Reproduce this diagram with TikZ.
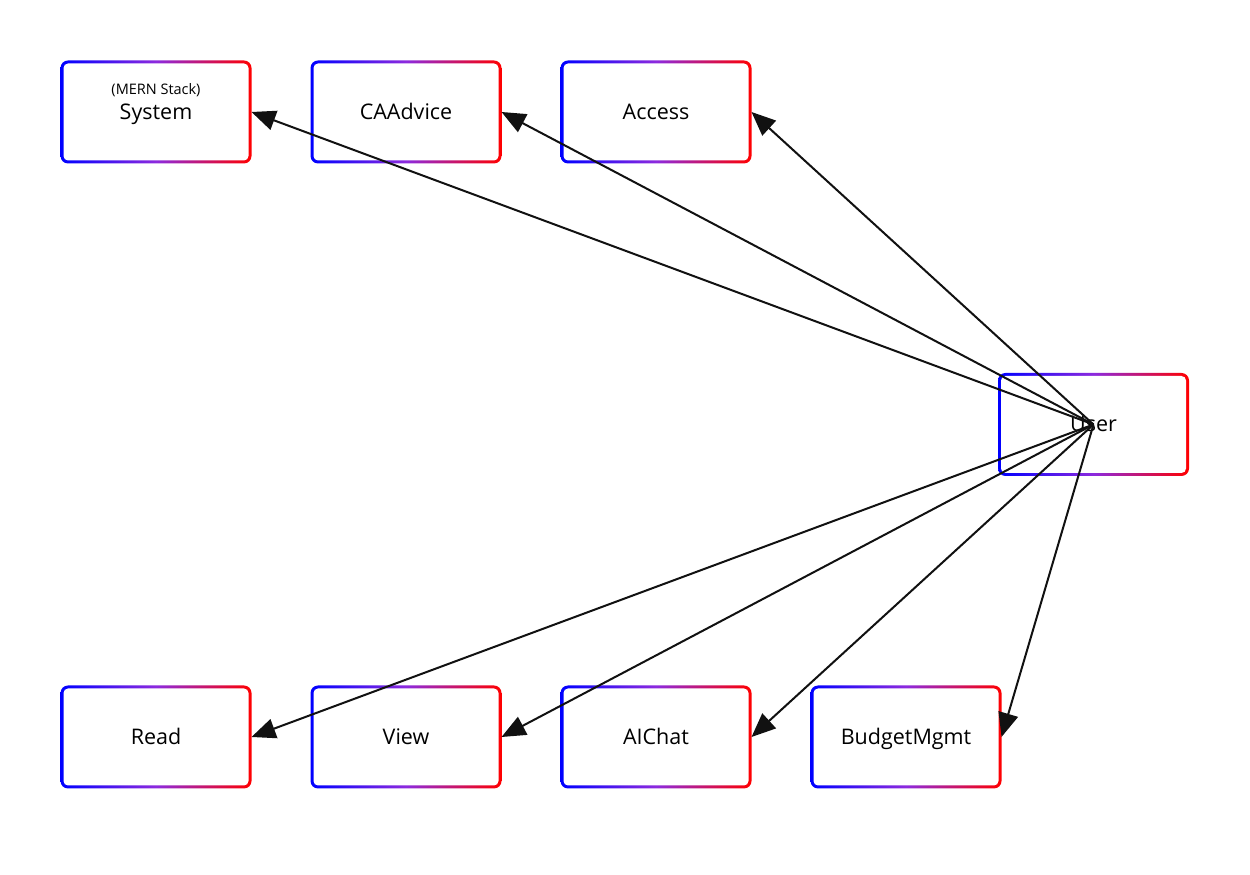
\documentclass[tikz,border=0pt]{standalone}
\usepackage{fontspec}
\setmainfont{Open Sans}
\usetikzlibrary{arrows.meta}
\definecolor{midviolet}{RGB}{140,42,222}
\definecolor{edgecol}{RGB}{17,17,17}
\tikzset{
  gbox/.style={rectangle, rounded corners=7.5pt, minimum width=191pt, minimum height=103pt,
    inner sep=0pt, outer sep=0pt, shade, left color=blue, right color=red, middle color=midviolet,
    path picture={\fill[white, rounded corners=4.5pt]
      ([xshift=3pt,yshift=3pt]path picture bounding box.south west) rectangle
      ([xshift=-3pt,yshift=-3pt]path picture bounding box.north east);},
    font=\fontsize{21.5pt}{25pt}\selectfont, text height=17.5pt, text depth=2.5pt},
  conn/.style={draw=edgecol, line width=2pt, -{Triangle[length=24pt,width=20pt]}}
}
\begin{document}
\begin{tikzpicture}[x=1pt,y=1pt]
\useasboundingbox (0,0) rectangle (1250,875);
\node[gbox, label={[font=\fontsize{14.5pt}{16pt}\selectfont, text height=10.5pt, text depth=3pt, yshift=21.5pt]center:(MERN Stack)}] (sys) at (156,763) {System};
\node[gbox] (ca) at (406,763) {CAAdvice};
\node[gbox] (acc) at (656,763) {Access};
\node[gbox] (user) at (1093.5,450.5) {User};
\node[gbox] (read) at (156,138) {Read};
\node[gbox] (view) at (406,138) {View};
\node[gbox] (ai) at (656,138) {AIChat};
\node[gbox] (bud) at (906,138) {BudgetMgmt};
\foreach \t in {sys,ca,acc,read,view,ai,bud}
  \draw[conn] (user.center) -- (\t.east);
\end{tikzpicture}
\end{document}
